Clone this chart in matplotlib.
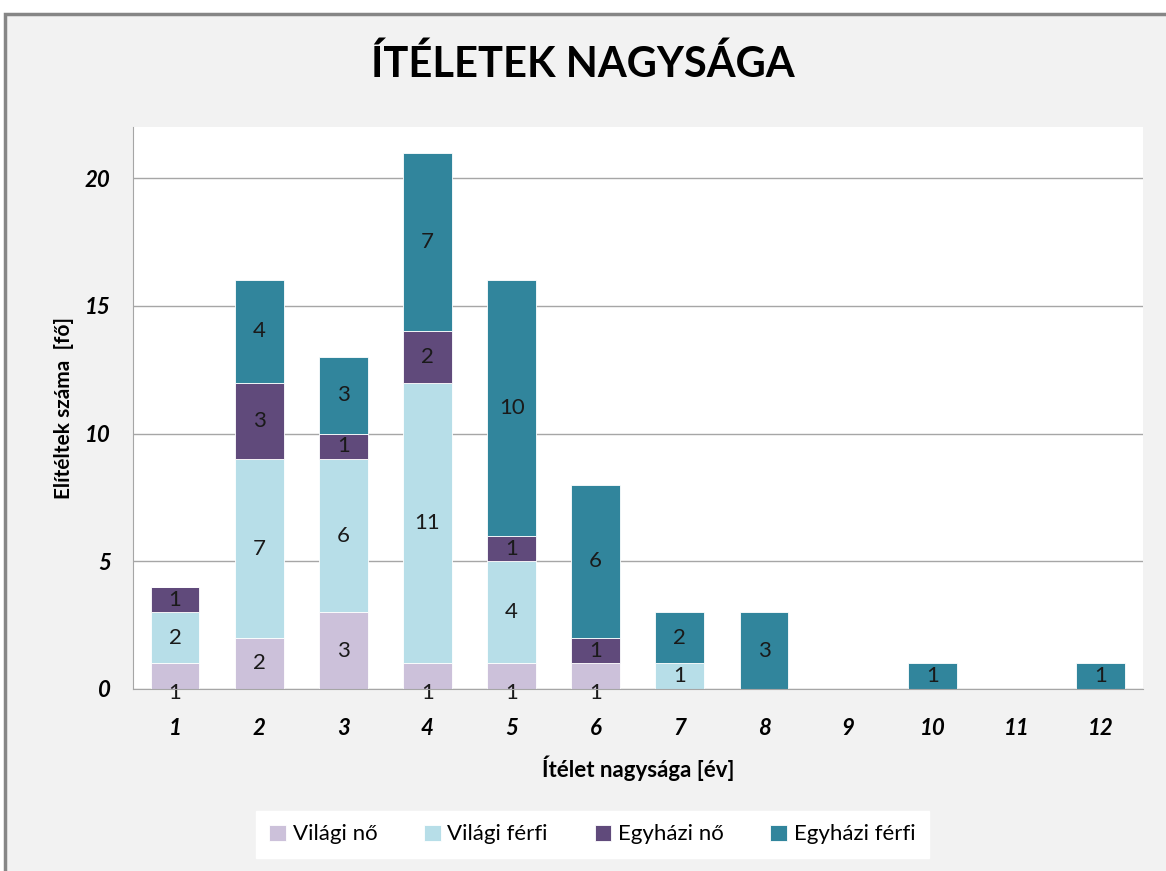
#!/usr/bin/env python3
"""Stacked bar chart: Ítéletek nagysága."""

import matplotlib

matplotlib.use("Agg")
import matplotlib.pyplot as plt
import numpy as np
from matplotlib.patches import Rectangle

plt.rcParams["font.family"] = ["Lato", "DejaVu Sans"]

CATEGORIES = ["1", "2", "3", "4", "5", "6", "7", "8", "9", "10", "11", "12"]
SERIES = ["Világi nő", "Világi férfi", "Egyházi nő", "Egyházi férfi"]
VILAGI_NO = [1, 2, 3, 1, 1, 1, 0, 0, 0, 0, 0, 0]
VILAGI_FERFI = [2, 7, 6, 11, 4, 0, 1, 0, 0, 0, 0, 0]
EGYHAZI_NO = [1, 3, 1, 2, 1, 1, 0, 0, 0, 0, 0, 0]
EGYHAZI_FERFI = [0, 4, 3, 7, 10, 6, 2, 3, 0, 1, 0, 1]
COLORS = ["#ccc1da", "#b7dee8", "#604a7b", "#31859c"]
Y_TICKS = [0, 5, 10, 15, 20]

fig = plt.figure(figsize=(11.66, 8.71), dpi=100, facecolor="white")
fig.patches.append(Rectangle((0.004, -0.01), 1.0, 0.994, transform=fig.transFigure,
                             facecolor="#f2f2f2", edgecolor="#868686", linewidth=2.5,
                             zorder=-10))
ax = fig.add_axes([0.114, 0.209, 0.866, 0.645])
ax.set_facecolor("white")

x = np.arange(len(CATEGORIES))
bottom = np.zeros(len(CATEGORIES))
for si, (name, values, color) in enumerate(
        zip(SERIES, [VILAGI_NO, VILAGI_FERFI, EGYHAZI_NO, EGYHAZI_FERFI], COLORS)):
    values = np.asarray(values, dtype=float)
    ax.bar(x, values, 0.58, bottom=bottom, color=color, label=name,
           edgecolor="white", linewidth=0.6, zorder=3)
    for xi, b, v in zip(x, bottom, values):
        if v == 0:
            continue
        y = b + v / 2
        if si == 0 and v == 1:
            y = -0.15  # Excel pushed these labels down onto the axis
        ax.text(xi, y, f"{int(v)}", ha="center", va="center", fontsize=16,
                color="#1a1a1a", zorder=4)
    bottom += values

ax.set_xlim(-0.5, len(CATEGORIES) - 0.5)
ax.set_ylim(0, 22)
ax.set_yticks(Y_TICKS)
ax.set_xticks(x)
ax.set_xticklabels(CATEGORIES)
ax.tick_params(length=0, labelsize=16)
ax.tick_params(axis="x", pad=21)
ax.tick_params(axis="y", pad=16)
for lbl in ax.get_xticklabels() + ax.get_yticklabels():
    lbl.set_fontweight("bold")
    lbl.set_fontstyle("italic")
ax.yaxis.grid(True, color="#a6a6a6", linewidth=1.0, zorder=0)
for side in ["top", "right"]:
    ax.spines[side].set_visible(False)
for side in ["left", "bottom"]:
    ax.spines[side].set_color("#a6a6a6")
    ax.spines[side].set_zorder(5)

ax.set_xlabel("Ítélet nagysága [év]", fontsize=16, fontweight="bold", labelpad=12)
ax.set_ylabel("Elítéltek száma  [fő]", fontsize=15, fontweight="bold", labelpad=8)

fig.suptitle("ÍTÉLETEK NAGYSÁGA", fontsize=30, fontweight="bold", y=0.926, va="center")

leg = fig.legend(loc="center", bbox_to_anchor=(0.508, 0.042), ncol=4, frameon=True,
                 fancybox=False, fontsize=16, handlelength=0.75, handleheight=0.75,
                 handletextpad=0.3, columnspacing=2.1, borderpad=0.6, framealpha=1)
leg.get_frame().set_facecolor("white")
leg.get_frame().set_edgecolor("white")

fig.savefig("out.png", dpi=100, facecolor=fig.get_facecolor())
